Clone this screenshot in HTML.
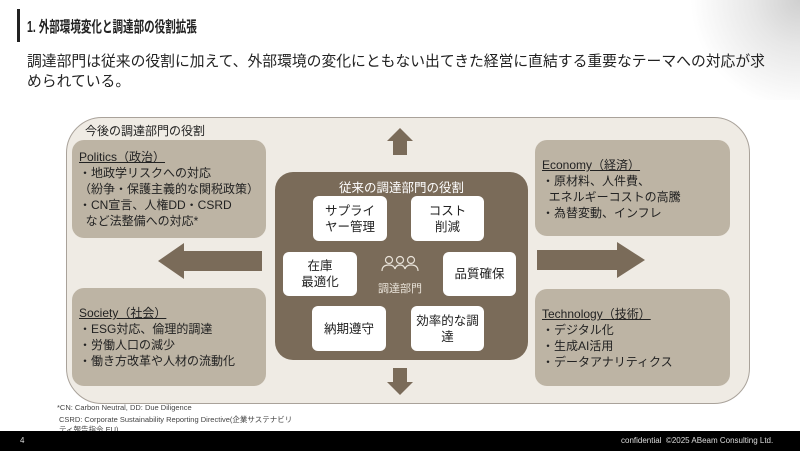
<!DOCTYPE html>
<html><head><meta charset="utf-8"><style>
*{margin:0;padding:0;box-sizing:border-box}
body{width:800px;height:451px;position:relative;overflow:hidden;background:#fff;font-family:"Liberation Sans","Noto Sans CJK JP",sans-serif;color:#222}
.a{position:absolute}
.box{position:absolute;background:#bdb4a4;border-radius:12px;font-size:12px;line-height:16px;padding:13px 7px;color:#222}
.box u{text-decoration:underline}
.w{position:absolute;background:#fff;border-radius:6px;font-size:12.5px;line-height:16px;display:flex;align-items:center;justify-content:center;text-align:center;color:#222}
.ft{font-size:7.5px;color:#444;line-height:10px}
</style></head><body>
<div class="a" style="right:0;top:0;width:120px;height:100px;background:radial-gradient(circle at 100% 0%,#bbb 0,#ddd 30%,rgba(255,255,255,0) 70%);opacity:.7"></div>
<div class="a" style="left:17px;top:9px;width:3px;height:33px;background:#222"></div>
<div class="a" style="left:27px;top:15px;font-size:15.5px;font-weight:bold;transform:scaleX(0.68);transform-origin:0 0;white-space:nowrap">1. 外部環境変化と調達部の役割拡張</div>
<div class="a" style="left:27px;top:52px;font-size:14.8px;line-height:20px;width:770px;white-space:nowrap">調達部門は従来の役割に加えて、外部環境の変化にともない出てきた経営に直結する重要なテーマへの対応が求<br>められている。</div>
<div class="a" style="left:66px;top:117px;width:684px;height:287px;background:#efebe4;border:1px solid #a9a29a;border-radius:36px"></div>
<div class="a" style="left:85px;top:122px;font-size:12px">今後の調達部門の役割</div>
<div class="box" style="left:72px;top:140px;width:194px;height:98px;padding-top:9px"><u>Politics（政治）</u><br>・地政学リスクへの対応<br>（紛争・保護主義的な関税政策）<br>・CN宣言、人権DD・CSRD<br>&nbsp;&nbsp;など法整備への対応*</div>
<div class="box" style="left:72px;top:288px;width:194px;height:98px;padding-top:17px"><u>Society（社会）</u><br>・ESG対応、倫理的調達<br>・労働人口の減少<br>・働き方改革や人材の流動化</div>
<div class="box" style="left:535px;top:140px;width:195px;height:96px;padding-top:17px"><u>Economy（経済）</u><br>・原材料、人件費、<br>&nbsp;&nbsp;エネルギーコストの高騰<br>・為替変動、インフレ</div>
<div class="box" style="left:535px;top:289px;width:195px;height:97px;padding-top:17px"><u>Technology（技術）</u><br>・デジタル化<br>・生成AI活用<br>・データアナリティクス</div>
<svg class="a" style="left:0;top:0" width="800" height="451">
<g fill="#7a6b59">
<polygon points="262,251 184,251 184,243 158,261 184,279 184,271 262,271"/>
<polygon points="537,250 617,250 617,242 645,260 617,278 617,270 537,270"/>
<polygon points="393,155 393,141 387,141 400,128 413,141 407,141 407,155"/>
<polygon points="393,368 393,382 387,382 400,395 413,382 407,382 407,368"/>
</g>
</svg>
<div class="a" style="left:275px;top:172px;width:253px;height:188px;background:#7a6b59;border-radius:18px"></div>
<div class="a" style="left:275px;top:177px;width:253px;text-align:center;color:#fff;font-size:12.5px">従来の調達部門の役割</div>
<div class="w" style="left:313px;top:196px;width:74px;height:45px">サプライ<br>ヤー管理</div>
<div class="w" style="left:411px;top:196px;width:73px;height:45px">コスト<br>削減</div>
<div class="w" style="left:283px;top:252px;width:74px;height:44px">在庫<br>最適化</div>
<div class="w" style="left:443px;top:252px;width:73px;height:44px">品質確保</div>
<div class="w" style="left:312px;top:306px;width:74px;height:45px">納期遵守</div>
<div class="w" style="left:411px;top:306px;width:73px;height:45px">効率的な調<br>達</div>
<svg class="a" style="left:380px;top:255px" width="40" height="20"><g fill="none" stroke="#e8e2d8" stroke-width="1.2">
<circle cx="9" cy="5" r="3.5"/><circle cx="20" cy="5" r="3.5"/><circle cx="31" cy="5" r="3.5"/>
<path d="M2,16 Q2,10 9,10 Q14,10 15,14 Q16,10 20,10 Q24,10 25,14 Q26,10 31,10 Q38,10 38,16"/></g></svg>
<div class="a" style="left:370px;top:280px;width:60px;text-align:center;color:#e8e2d8;font-size:11px">調達部門</div>
<div class="a ft" style="left:57px;top:403px">*CN: Carbon Neutral, DD: Due Diligence</div>
<div class="a ft" style="left:59px;top:415px">CSRD: Corporate Sustainability Reporting Directive(企業サステナビリ<br>ティ報告指令 EU)</div>
<div class="a" style="left:0;top:431px;width:800px;height:20px;background:#000"></div>
<div class="a" style="left:20px;top:436px;color:#ddd;font-size:8px">4</div>
<div class="a" style="left:621px;top:436px;color:#ddd;font-size:8px">confidential&nbsp;&nbsp;©2025 ABeam Consulting Ltd.</div>
</body></html>
